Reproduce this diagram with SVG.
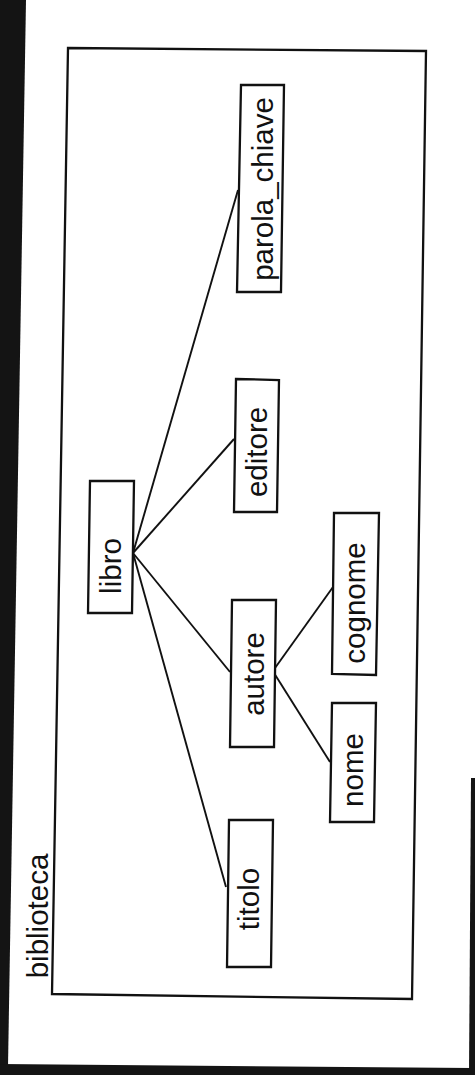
<svg xmlns="http://www.w3.org/2000/svg" width="475" height="1075" viewBox="0 0 475 1075">
<style>
.box{fill:#fff;stroke:#111;stroke-width:2.3}
.lbl{font-family:"Liberation Sans",Arial,sans-serif;font-size:29.5px;fill:#111;text-anchor:middle;dominant-baseline:central}
.edge{stroke:#111;stroke-width:1.9;fill:none}
</style>
<rect width="475" height="1075" fill="#fff"/>
<polygon points="0,0 26,0 8,1066 0,1066" fill="#141414"/>
<polygon points="0,1064 472,1068 472,1075 0,1075" fill="#141414"/>
<polygon points="471,778 475,778 475,1075 469,1075" fill="#141414"/>
<g id="biblioteca">
<polygon class="box" points="68,48 426,51 412,999 52,994" fill="none"/>
<text class="lbl" transform="translate(37,916) rotate(-90)">biblioteca</text>
</g>
<g id="connectors">
<line class="edge" x1="133" y1="553" x2="238" y2="190"/>
<line class="edge" x1="133" y1="553" x2="234" y2="439"/>
<line class="edge" x1="133" y1="553" x2="230" y2="672"/>
<line class="edge" x1="133" y1="553" x2="226" y2="887"/>
<line class="edge" x1="275" y1="668" x2="333" y2="587"/>
<line class="edge" x1="274" y1="673" x2="330" y2="762"/>
</g>
<g id="parola_chiave">
<polygon class="box" points="241,85 284,85 281,292 237,292"/>
<text class="lbl" transform="translate(262,189) rotate(-90)">parola_chiave</text>
</g>
<g id="editore">
<polygon class="box" points="236,379 279,380 277,512 234,512"/>
<text class="lbl" transform="translate(256,452) rotate(-90)">editore</text>
</g>
<g id="libro">
<polygon class="box" points="90,481 134,481 132,613 88,613"/>
<text class="lbl" transform="translate(110,566) rotate(-90)">libro</text>
</g>
<g id="cognome">
<polygon class="box" points="334,513 379,513 376,675 332,674"/>
<text class="lbl" transform="translate(354,603) rotate(-90)">cognome</text>
</g>
<g id="autore">
<polygon class="box" points="232,600 276,600 274,747 230,747"/>
<text class="lbl" transform="translate(253,674) rotate(-90)">autore</text>
</g>
<g id="nome">
<polygon class="box" points="332,703 376,703 374,822 330,822"/>
<text class="lbl" transform="translate(352,770) rotate(-90)">nome</text>
</g>
<g id="titolo">
<polygon class="box" points="229,820 273,820 271,967 227,967"/>
<text class="lbl" transform="translate(248,899) rotate(-90)">titolo</text>
</g>
</svg>
